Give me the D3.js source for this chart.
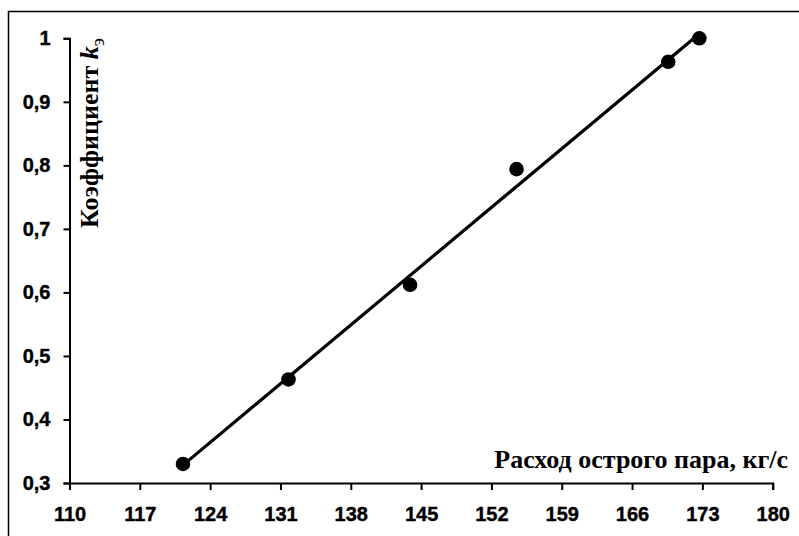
<!DOCTYPE html>
<html>
<head>
<meta charset="utf-8">
<script src="https://cdn.jsdelivr.net/npm/d3@7"></script>
<style>
  html, body { margin: 0; padding: 0; background: #fff; }
  svg { display: block; }
</style>
</head>
<body>
<svg id="chart" width="799" height="536"></svg>
<script>
// Data
const steamFlow = [121.3, 131.8, 143.9, 154.5, 169.6, 172.7];   // кг/с
const coefK = [0.33, 0.463, 0.612, 0.794, 0.963, 1.0];
const xTicks = [110, 117, 124, 131, 138, 145, 152, 159, 166, 173, 180];
const yTicks = [0.3, 0.4, 0.5, 0.6, 0.7, 0.8, 0.9, 1.0];
const xTitle = "Расход острого пара, кг/с";
const yTitle = "Коэффициент ";

const svg = d3.select("#chart");
const W = 799, H = 536;

// outer frame (right and bottom edges lie outside the picture)
svg.append("rect")
  .attr("x", 8.5).attr("y", 11.5)
  .attr("width", W + 10).attr("height", H + 10)
  .attr("fill", "none").attr("stroke", "#000").attr("stroke-width", 1.5);

const x = d3.scaleLinear().domain([110, 180]).range([69.5, 772.7]);
const y = d3.scaleLinear().domain([0.3, 1.0]).range([483, 38.3]);

const tickFont = "'Liberation Sans', Arial, sans-serif";

// X axis
const gx = svg.append("g").attr("transform", `translate(0,${y(0.3)})`)
  .call(d3.axisBottom(x).tickValues(xTicks).tickSize(7).tickPadding(17).tickFormat(d3.format("d")));
// Y axis
const gy = svg.append("g").attr("transform", `translate(${x(110)},0)`)
  .call(d3.axisLeft(y).tickValues(yTicks).tickSize(6).tickPadding(13)
    .tickFormat(d => d === 1 ? "1" : d3.format(".1f")(d).replace(".", ",")));

[gx, gy].forEach(g => {
  g.attr("font-family", null).attr("font-size", null);
  g.select(".domain").attr("stroke", "#000").attr("stroke-width", 2);
  g.selectAll(".tick line").attr("stroke", "#000").attr("stroke-width", 2);
  g.selectAll(".tick text")
    .attr("fill", "#000")
    .attr("stroke", "#000").attr("stroke-width", 0.4)
    .style("font-family", tickFont)
    .style("font-weight", "700")
    .style("font-size", "20px");
});

// Linear trend line (least squares), drawn over data x range
const n = steamFlow.length;
const mx = d3.mean(steamFlow), my = d3.mean(coefK);
let sxy = 0, sxx = 0;
for (let i = 0; i < n; i++) {
  sxy += (steamFlow[i] - mx) * (coefK[i] - my);
  sxx += (steamFlow[i] - mx) ** 2;
}
const slope = sxy / sxx, icpt = my - slope * mx;
const [x0, x1] = d3.extent(steamFlow);
const trend = [[x0, icpt + slope * x0], [x1, icpt + slope * x1]];

svg.append("path")
  .datum(trend)
  .attr("d", d3.line().x(d => x(d[0])).y(d => y(d[1])))
  .attr("fill", "none").attr("stroke", "#000").attr("stroke-width", 3.2);

// Points
svg.append("g").selectAll("circle")
  .data(steamFlow.map((v, i) => [v, coefK[i]]))
  .join("circle")
  .attr("cx", d => x(d[0])).attr("cy", d => y(d[1]))
  .attr("r", 7.3).attr("fill", "#000");

// Axis titles
const serif = "'Liberation Serif', 'Times New Roman', serif";
svg.append("text")
  .attr("x", 788).attr("y", 468)
  .attr("text-anchor", "end")
  .style("font-family", serif).style("font-weight", "700").style("font-size", "26px")
  .text(xTitle);

const yt = svg.append("text")
  .attr("transform", "translate(98,228) rotate(-90)")
  .attr("text-anchor", "start")
  .style("font-family", serif).style("font-weight", "700").style("font-size", "26px");
yt.append("tspan").text(yTitle);
yt.append("tspan").style("font-style", "italic").text("k");
yt.append("tspan").attr("dy", 6).style("font-size", "19px").style("font-weight", "400").text("э");
</script>
</body>
</html>
